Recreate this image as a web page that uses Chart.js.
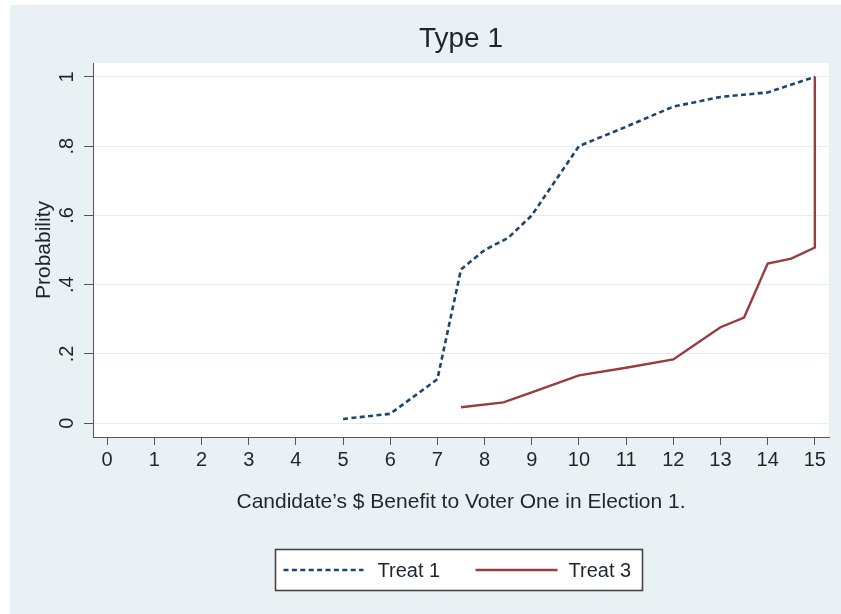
<!DOCTYPE html>
<html><head><meta charset="utf-8">
<script src="https://cdn.jsdelivr.net/npm/chart.js@4"></script>
<style>html,body{margin:0;padding:0;background:#fff}canvas{display:block}</style>
</head><body>
<canvas id="c" width="841" height="614"></canvas>
<script>
const chartTitle = 'Type 1';
const xTitle = 'Candidate\u2019s $ Benefit to Voter One in Election 1.';
const yTitle = 'Probability';
const xTickValues = [0,1,2,3,4,5,6,7,8,9,10,11,12,13,14,15];
const yTickValues = [0,0.2,0.4,0.6,0.8,1];
const yTickLabels = ['0','.2','.4','.6','.8','1'];
const seriesNames = ['Treat 1','Treat 3'];
const treat1X = [5, 6, 7, 7.5, 8, 8.5, 9, 9.5, 10, 11, 12, 13, 14, 15];
const treat1Y = [0.012, 0.027, 0.127, 0.444, 0.50, 0.535, 0.60, 0.70, 0.80, 0.856, 0.914, 0.942, 0.955, 1.0];
const treat3X = [7.5, 8.4, 9, 10, 11, 12, 13, 13.5, 14, 14.5, 15, 15];
const treat3Y = [0.046, 0.06, 0.089, 0.138, 0.16, 0.184, 0.277, 0.305, 0.461, 0.475, 0.507, 1.0];

const FONT = "'Liberation Sans', Arial, sans-serif";
const TEXT = '#1e2430';
const AXIS = '#555';
const BLUE = '#1a476f';
const RED = '#9a3b3f';
const BLUE_DASH = [5, 3.4];

const bgPlugin = {
  id: 'bg',
  beforeDraw(chart) {
    const {ctx, chartArea: a} = chart;
    ctx.save();
    ctx.fillStyle = '#ffffff';
    ctx.fillRect(0, 0, chart.width, chart.height);
    ctx.fillStyle = '#eaf1f4';
    ctx.fillRect(10, 5, chart.width - 10, chart.height - 5);
    ctx.fillStyle = '#ffffff';
    ctx.fillRect(a.left, a.top, a.right - a.left, a.bottom - a.top);
    ctx.restore();
  }
};

const yLabelPlugin = {
  id: 'ylabels',
  afterDraw(chart) {
    const {ctx, chartArea: a, scales: {y}} = chart;
    ctx.save();
    ctx.fillStyle = TEXT;
    ctx.textAlign = 'center';
    ctx.textBaseline = 'alphabetic';
    ctx.font = '20px ' + FONT;
    yTickValues.forEach((v, i) => {
      const py = y.getPixelForValue(v);
      ctx.save();
      ctx.translate(a.left - 20, py);
      ctx.rotate(-Math.PI / 2);
      ctx.fillText(yTickLabels[i], 0, 0);
      ctx.restore();
    });
    ctx.font = '21px ' + FONT;
    ctx.translate(a.left - 43, (a.top + a.bottom) / 2);
    ctx.rotate(-Math.PI / 2);
    ctx.fillText(yTitle, 0, 0);
    ctx.restore();
  }
};

const legendPlugin = {
  id: 'customLegend',
  afterDraw(chart) {
    const {ctx, chartArea: a} = chart;
    const cx = (a.left + a.right) / 2;
    const L = Math.round(cx - 186) + 0.5, T = Math.round(a.bottom + 112) + 0.5;
    const W = 367, H = 41;
    const my = T + H / 2;
    ctx.save();
    ctx.fillStyle = '#fff';
    ctx.fillRect(L, T, W, H);
    ctx.strokeStyle = '#454545';
    ctx.lineWidth = 1.6;
    ctx.strokeRect(L, T, W, H);
    ctx.lineWidth = 2.6;
    ctx.strokeStyle = BLUE;
    ctx.setLineDash(BLUE_DASH);
    ctx.beginPath(); ctx.moveTo(L + 8, my); ctx.lineTo(L + 88, my); ctx.stroke();
    ctx.setLineDash([]);
    ctx.strokeStyle = RED;
    ctx.lineWidth = 2.4;
    ctx.beginPath(); ctx.moveTo(L + 200, my); ctx.lineTo(L + 282, my); ctx.stroke();
    ctx.fillStyle = TEXT;
    ctx.font = '20px ' + FONT;
    ctx.textBaseline = 'middle';
    ctx.textAlign = 'left';
    ctx.fillText(seriesNames[0], L + 102, my + 1);
    ctx.fillText(seriesNames[1], L + 293, my + 1);
    ctx.restore();
  }
};

function pts(xs, ys) { return xs.map((x, i) => ({x: x, y: ys[i]})); }

new Chart(document.getElementById('c'), {
  type: 'scatter',
  data: {
    datasets: [
      {
        label: seriesNames[0],
        data: pts(treat1X, treat1Y),
        showLine: true,
        borderColor: BLUE,
        backgroundColor: BLUE,
        borderWidth: 2.6,
        borderDash: BLUE_DASH,
        tension: 0,
        pointRadius: 0,
        pointHoverRadius: 0
      },
      {
        label: seriesNames[1],
        data: pts(treat3X, treat3Y),
        showLine: true,
        borderColor: RED,
        backgroundColor: RED,
        borderWidth: 2.4,
        tension: 0,
        pointRadius: 0,
        pointHoverRadius: 0
      }
    ]
  },
  options: {
    responsive: false,
    animation: false,
    devicePixelRatio: 1,
    layout: { padding: { left: 93, right: 12, top: 0, bottom: 97 } },
    plugins: {
      legend: { display: false },
      tooltip: { enabled: false },
      title: {
        display: true,
        text: chartTitle,
        color: TEXT,
        font: { family: FONT, size: 28, weight: 'normal' },
        padding: { top: 22, bottom: 7.4 }
      }
    },
    scales: {
      x: {
        type: 'linear',
        position: 'bottom',
        min: -0.3,
        max: 15.3,
        afterBuildTicks(scale) {
          scale.ticks = xTickValues.map(v => ({value: v}));
        },
        afterFit(scale) { scale.height = 80; },
        ticks: {
          stepSize: 1,
          autoSkip: false,
          maxRotation: 0,
          minRotation: 0,
          padding: 3,
          color: TEXT,
          font: { family: FONT, size: 20 }
        },
        grid: { drawOnChartArea: false, drawTicks: true, tickLength: 8, tickColor: AXIS, tickWidth: 1 },
        border: { display: true, color: AXIS, width: 1 },
        title: {
          display: true,
          text: xTitle,
          color: TEXT,
          font: { family: FONT, size: 21 },
          padding: { top: 0, bottom: 2 }
        }
      },
      y: {
        type: 'linear',
        position: 'left',
        min: -0.04,
        max: 1.04,
        afterBuildTicks(scale) {
          scale.ticks = yTickValues.map(v => ({value: v}));
        },
        afterFit(scale) { scale.width = 0; },
        ticks: { stepSize: 0.2, display: false },
        grid: { color: '#e5edf0', lineWidth: 1, drawTicks: true, tickLength: 9, tickColor: AXIS, tickWidth: 1 },
        border: { display: true, color: AXIS, width: 1 }
      }
    }
  },
  plugins: [bgPlugin, yLabelPlugin, legendPlugin]
});
</script>
</body></html>
